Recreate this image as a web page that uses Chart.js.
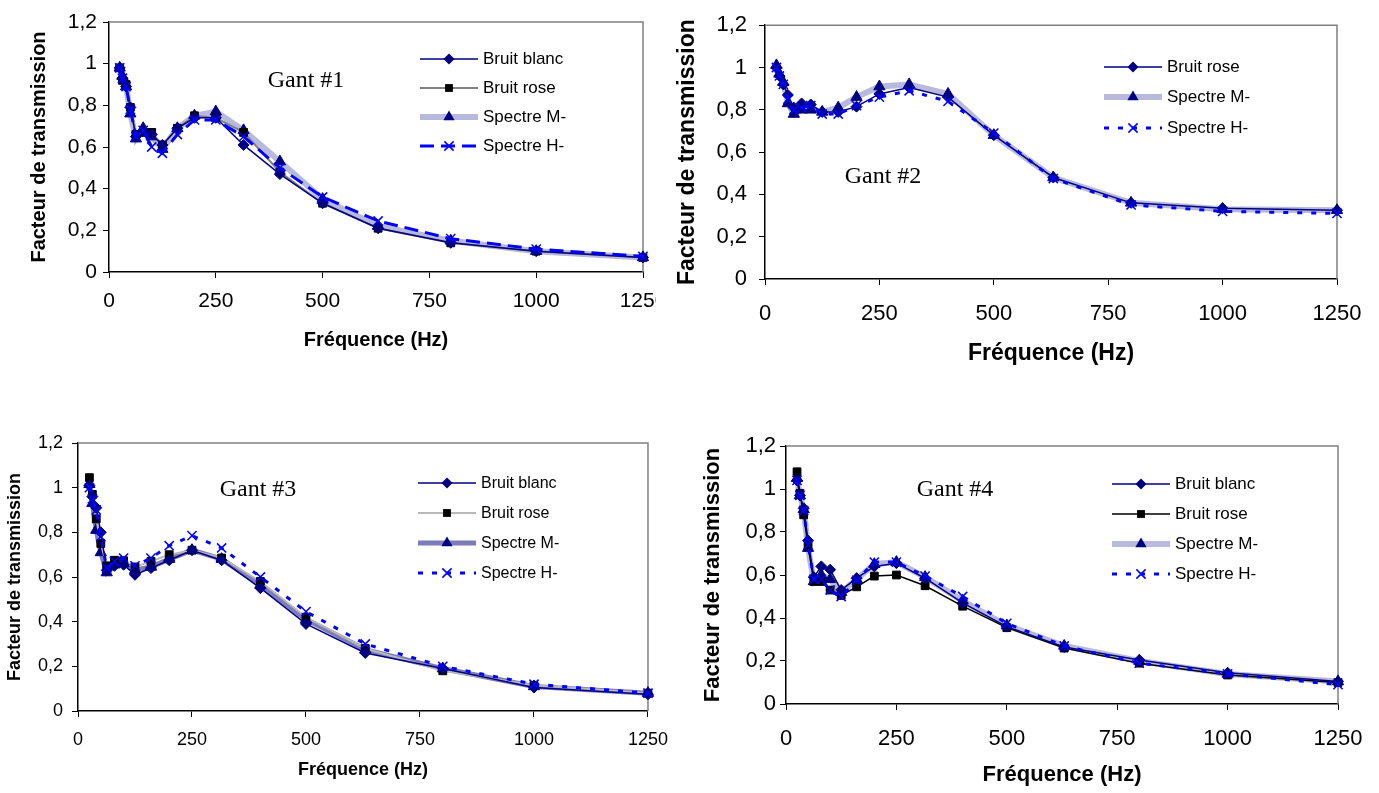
<!DOCTYPE html>
<html>
<head>
<meta charset="utf-8">
<script src="https://cdn.jsdelivr.net/npm/chart.js@4.4.1/dist/chart.umd.min.js"></script>
<style>
  body { margin: 0; background: #fff; width: 1379px; height: 793px; position: relative; overflow: hidden;
         font-family: "Liberation Sans", Arial, sans-serif; }
  .panel { position: absolute; overflow: hidden; }
  .gant { position: absolute; font-family: "Liberation Serif", "Times New Roman", serif; font-size: 24px;
          transform: translate(-50%, -50%); white-space: nowrap; color: #000; }
  .row { position: absolute; display: flex; align-items: center; white-space: nowrap; color: #000;
         transform: translateY(-50%); }
  .row svg { margin-right: 5px; }
</style>
</head>
<body>
<script>
// Third-octave band centres (Hz)
const freqs = [25, 31.5, 40, 50, 63, 80, 100, 125, 160, 200, 250, 315, 400, 500, 630, 800, 1000, 1250];
const xTicks = [0, 250, 500, 750, 1000, 1250];
const yTicks = [0, 0.2, 0.4, 0.6, 0.8, 1, 1.2];

// Gant #1
const g1Blanc = [0.98, 0.93, 0.89, 0.79, 0.65, 0.68, 0.66, 0.61, 0.69, 0.74, 0.74, 0.61, 0.47, 0.33, 0.21, 0.14, 0.10, 0.07];
const g1Rose  = [0.98, 0.92, 0.90, 0.79, 0.66, 0.67, 0.67, 0.61, 0.69, 0.75, 0.74, 0.67, 0.48, 0.33, 0.21, 0.14, 0.10, 0.07];
const g1SpecM = [0.98, 0.94, 0.89, 0.76, 0.64, 0.69, 0.65, 0.59, 0.69, 0.75, 0.77, 0.68, 0.53, 0.35, 0.22, 0.15, 0.10, 0.07];
const g1SpecH = [0.98, 0.93, 0.89, 0.78, 0.65, 0.68, 0.60, 0.57, 0.66, 0.73, 0.73, 0.65, 0.50, 0.36, 0.245, 0.16, 0.11, 0.075];

// Gant #2
const g2Rose  = [1.00, 0.96, 0.92, 0.87, 0.81, 0.83, 0.825, 0.79, 0.79, 0.815, 0.875, 0.905, 0.86, 0.68, 0.48, 0.36, 0.335, 0.325];
const g2SpecM = [1.01, 0.97, 0.93, 0.83, 0.78, 0.80, 0.80, 0.79, 0.81, 0.86, 0.91, 0.92, 0.875, 0.68, 0.48, 0.36, 0.33, 0.325];
const g2SpecH = [1.00, 0.96, 0.92, 0.85, 0.80, 0.81, 0.82, 0.78, 0.78, 0.82, 0.86, 0.89, 0.84, 0.69, 0.475, 0.35, 0.32, 0.31];

// Gant #3
const g3Blanc = [1.01, 0.96, 0.91, 0.80, 0.63, 0.65, 0.655, 0.61, 0.64, 0.675, 0.72, 0.675, 0.55, 0.39, 0.26, 0.19, 0.105, 0.075];
const g3Rose  = [1.045, 0.97, 0.86, 0.75, 0.65, 0.675, 0.673, 0.645, 0.67, 0.70, 0.72, 0.685, 0.58, 0.42, 0.28, 0.18, 0.115, 0.08];
const g3SpecM = [1.015, 0.93, 0.81, 0.71, 0.62, 0.655, 0.66, 0.63, 0.645, 0.68, 0.72, 0.68, 0.565, 0.41, 0.275, 0.19, 0.11, 0.08];
const g3SpecH = [1.00, 0.95, 0.90, 0.78, 0.64, 0.67, 0.685, 0.65, 0.685, 0.74, 0.785, 0.73, 0.60, 0.445, 0.30, 0.20, 0.12, 0.08];

// Gant #4
const g4Blanc = [1.04, 0.97, 0.91, 0.76, 0.59, 0.64, 0.625, 0.53, 0.585, 0.64, 0.655, 0.585, 0.47, 0.36, 0.265, 0.205, 0.145, 0.105];
const g4Rose  = [1.08, 0.98, 0.88, 0.735, 0.57, 0.57, 0.53, 0.505, 0.545, 0.595, 0.60, 0.55, 0.455, 0.355, 0.26, 0.19, 0.135, 0.10];
const g4SpecM = [1.05, 0.97, 0.905, 0.725, 0.57, 0.60, 0.58, 0.52, 0.58, 0.65, 0.66, 0.59, 0.48, 0.365, 0.27, 0.20, 0.14, 0.105];
const g4SpecH = [1.04, 0.97, 0.90, 0.74, 0.58, 0.58, 0.53, 0.50, 0.575, 0.66, 0.66, 0.595, 0.50, 0.375, 0.27, 0.19, 0.14, 0.09];

const FONT = '"Liberation Sans", Arial, sans-serif';

// line + marker styles
const NAVY = '#000080';
const styleBlanc = { color: NAVY, width: 1.5, dash: [], point: 'rectRot', radius: 5.5, fill: NAVY, order: 1 };
const styleRoseGray = { color: '#808080', width: 2, dash: [], point: 'rect', radius: 5.5, fill: '#000', order: 2 };
const styleRoseLight = { color: '#b8b8b8', width: 2, dash: [], point: 'rect', radius: 5.5, fill: '#000', order: 2 };
const styleRoseBlack = { color: '#000', width: 1.5, dash: [], point: 'rect', radius: 5.5, fill: '#000', order: 2 };
const styleRoseNavy = { color: NAVY, width: 1.5, dash: [], point: 'rectRot', radius: 5.5, fill: NAVY, order: 1 };
const styleM = { color: '#b9b9dd', width: 6, dash: [], point: 'triangle', radius: 6.5, fill: NAVY, order: 3 };
const styleMDark = { color: '#7c7cbc', width: 5, dash: [], point: 'triangle', radius: 6.5, fill: NAVY, order: 3 };
const styleHDash = { color: '#0000ff', width: 3, dash: [14, 7], point: 'crossRot', radius: 6.5, fill: '#0000ff', order: 0 };
const styleHDot = { color: '#0000ff', width: 3, dash: [5, 9], point: 'crossRot', radius: 6.5, fill: '#0000ff', order: 0 };

const panels = [
  {
    left: 0, top: 0, w: 680, h: 380, clipW: 656,
    area: { l: 109, r: 643, t: 22, b: 272 },
    tickFont: 21, titleFont: 20, yTitlePad: 27, xTitlePad: 28, xTickPad: 11, yTickPad: 6,
    gant: { text: 'Gant #1', x: 306, y: 79 },
    legend: { x: 420, lineW: 58, rows: [59, 88, 117, 146], font: 17 },
    series: [
      { label: 'Bruit blanc', data: g1Blanc, style: styleBlanc },
      { label: 'Bruit rose', data: g1Rose, style: styleRoseGray },
      { label: 'Spectre M-', data: g1SpecM, style: styleM },
      { label: 'Spectre H-', data: g1SpecH, style: styleHDash },
    ],
  },
  {
    left: 674, top: 0, w: 705, h: 380,
    area: { l: 765, r: 1337, t: 12, b: 279 },
    tickFont: 22, titleFont: 23, yTitlePad: 0, xTitlePad: 13, xTickPad: 16, yTickPad: 12,
    gant: { text: 'Gant #2', x: 883, y: 175 },
    legend: { x: 1104, lineW: 58, rows: [67, 97, 128], font: 17 },
    series: [
      { label: 'Bruit rose', data: g2Rose, style: styleRoseNavy },
      { label: 'Spectre M-', data: g2SpecM, style: styleM },
      { label: 'Spectre H-', data: g2SpecH, style: styleHDot },
    ],
  },
  {
    left: 0, top: 420, w: 680, h: 373,
    area: { l: 78, r: 649, t: 443, b: 711 },
    tickFont: 18, titleFont: 18, yTitlePad: 4, xTitlePad: 12, xTickPad: 12, yTickPad: 9,
    gant: { text: 'Gant #3', x: 258, y: 488 },
    legend: { x: 418, lineW: 58, rows: [483, 513, 543, 573], font: 16 },
    series: [
      { label: 'Bruit blanc', data: g3Blanc, style: styleBlanc },
      { label: 'Bruit rose', data: g3Rose, style: styleRoseLight },
      { label: 'Spectre M-', data: g3SpecM, style: styleMDark },
      { label: 'Spectre H-', data: g3SpecH, style: styleHDot },
    ],
  },
  {
    left: 680, top: 420, w: 699, h: 373,
    area: { l: 786, r: 1338, t: 446, b: 704 },
    tickFont: 22, titleFont: 22, yTitlePad: 20, xTitlePad: 5, xTickPad: 16, yTickPad: 4,
    gant: { text: 'Gant #4', x: 955, y: 488 },
    legend: { x: 1112, lineW: 58, rows: [484, 514, 544, 574], font: 17 },
    series: [
      { label: 'Bruit blanc', data: g4Blanc, style: styleBlanc },
      { label: 'Bruit rose', data: g4Rose, style: styleRoseBlack },
      { label: 'Spectre M-', data: g4SpecM, style: styleM },
      { label: 'Spectre H-', data: g4SpecH, style: styleHDot },
    ],
  },
];

// gray top/right border of the plot area (Excel style)
const plotFrame = {
  id: 'plotFrame',
  beforeDatasetsDraw(chart) {
    const { ctx, chartArea: a } = chart;
    ctx.save();
    ctx.strokeStyle = '#808080';
    ctx.lineWidth = 1.5;
    ctx.beginPath();
    ctx.moveTo(a.left, a.top);
    ctx.lineTo(a.right, a.top);
    ctx.lineTo(a.right, a.bottom);
    ctx.stroke();
    ctx.restore();
  },
};

function markerSvg(st, cx, cy) {
  const r = st.radius;
  if (st.point === 'rectRot') {
    return `<polygon points="${cx},${cy - r} ${cx + r},${cy} ${cx},${cy + r} ${cx - r},${cy}" fill="${st.fill}"/>`;
  }
  if (st.point === 'rect') {
    const s = r * 0.71;
    return `<rect x="${cx - s}" y="${cy - s}" width="${2 * s}" height="${2 * s}" fill="${st.fill}"/>`;
  }
  if (st.point === 'triangle') {
    return `<polygon points="${cx},${cy - r} ${cx + r * 0.87},${cy + r * 0.5} ${cx - r * 0.87},${cy + r * 0.5}" fill="${st.fill}"/>`;
  }
  const s = r * 0.71;
  return `<path d="M${cx - s},${cy - s}L${cx + s},${cy + s}M${cx - s},${cy + s}L${cx + s},${cy - s}" stroke="${st.fill}" stroke-width="1.5"/>`;
}

function addLegend(p) {
  p.series.forEach((s, i) => {
    const st = s.style;
    const W = p.legend.lineW, H = 16;
    const row = document.createElement('div');
    row.className = 'row';
    row.style.left = p.legend.x + 'px';
    row.style.top = p.legend.rows[i] + 'px';
    row.style.fontSize = p.legend.font + 'px';
    const dash = st.dash.length ? `stroke-dasharray="${st.dash.join(',')}"` : '';
    row.innerHTML =
      `<svg width="${W}" height="${H}"><line x1="0" y1="${H / 2}" x2="${W}" y2="${H / 2}" stroke="${st.color}" stroke-width="${st.width}" ${dash}/>` +
      markerSvg(st, W / 2, H / 2) + `</svg><span>${s.label}</span>`;
    document.body.appendChild(row);
  });
}

function makePanel(p) {
  const wrap = document.createElement('div');
  wrap.className = 'panel';
  wrap.style.left = p.left + 'px';
  wrap.style.top = p.top + 'px';
  wrap.style.width = (p.clipW || p.w) + 'px';
  wrap.style.height = p.h + 'px';
  const canvas = document.createElement('canvas');
  canvas.width = p.w;
  canvas.height = p.h;
  canvas.style.width = p.w + 'px';
  canvas.style.height = p.h + 'px';
  wrap.appendChild(canvas);
  document.body.appendChild(wrap);

  const yWidth = p.area.l - p.left;
  const xHeight = p.top + p.h - p.area.b;

  const datasets = p.series.map(s => ({
    label: s.label,
    data: freqs.map((f, i) => ({ x: f, y: s.data[i] })),
    borderColor: s.style.color,
    borderWidth: s.style.width,
    borderDash: s.style.dash,
    pointStyle: s.style.point,
    pointRadius: s.style.radius,
    pointBackgroundColor: s.style.fill,
    pointBorderColor: s.style.fill,
    pointBorderWidth: s.style.point === 'crossRot' ? 1.5 : 1,
    tension: 0,
    fill: false,
    clip: false,
    order: s.style.order,
  }));

  new Chart(canvas, {
    type: 'line',
    data: { datasets },
    plugins: [plotFrame],
    options: {
      responsive: false,
      animation: false,
      devicePixelRatio: 1,
      layout: {
        padding: { left: 0, bottom: 0, top: p.area.t - p.top, right: p.left + p.w - p.area.r },
      },
      plugins: { legend: { display: false }, tooltip: { enabled: false } },
      scales: {
        x: {
          type: 'linear', min: 0, max: 1250,
          afterBuildTicks: sc => { sc.ticks = xTicks.map(v => ({ value: v })); },
          ticks: { color: '#000', padding: p.xTickPad, maxRotation: 0, autoSkip: false,
                   font: { family: FONT, size: p.tickFont },
                   callback: v => String(v) },
          grid: { drawOnChartArea: false, drawTicks: true, tickLength: 6, color: '#000', lineWidth: 1 },
          border: { color: '#000', width: 1.5 },
          title: { display: true, text: 'Fréquence (Hz)', color: '#000',
                   font: { family: FONT, size: p.titleFont, weight: 'bold' },
                   padding: { top: 0, bottom: p.xTitlePad } },
          afterFit: sc => { sc.height = xHeight; },
        },
        y: {
          type: 'linear', min: 0, max: 1.2,
          afterBuildTicks: sc => { sc.ticks = yTicks.map(v => ({ value: v })); },
          ticks: { color: '#000', padding: p.yTickPad,
                   font: { family: FONT, size: p.tickFont },
                   callback: v => String(Math.round(v * 10) / 10).replace('.', ',') },
          grid: { drawOnChartArea: false, drawTicks: true, tickLength: 6, color: '#000', lineWidth: 1 },
          border: { color: '#000', width: 1.5 },
          title: { display: true, text: 'Facteur de transmission', color: '#000',
                   font: { family: FONT, size: p.titleFont, weight: 'bold' },
                   padding: { top: p.yTitlePad, bottom: 0 } },
          afterFit: sc => { sc.width = yWidth; },
        },
      },
    },
  });

  const g = document.createElement('div');
  g.className = 'gant';
  g.style.left = p.gant.x + 'px';
  g.style.top = p.gant.y + 'px';
  g.textContent = p.gant.text;
  document.body.appendChild(g);

  addLegend(p);
}

panels.forEach(makePanel);
</script>
</body>
</html>
